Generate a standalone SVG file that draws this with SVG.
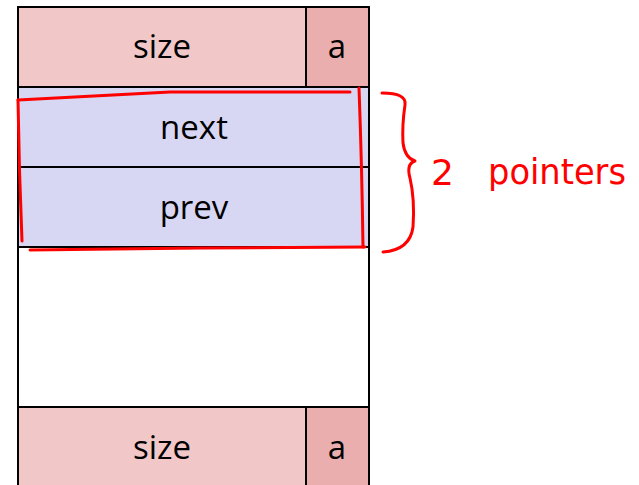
<svg xmlns="http://www.w3.org/2000/svg" width="639" height="485" viewBox="0 0 639 485">
<style>
.cell{stroke:#000;stroke-width:2}
.hdr{fill:#F2C7C7}
.bit{fill:#EBAEAE}
.free{fill:#D7D7F3}
.lbl{font-family:"Open Sans","Liberation Sans",sans-serif;font-size:33px;fill:#000;text-anchor:middle}
.ink{fill:none;stroke:#FF0000;stroke-width:3;stroke-linecap:round;stroke-linejoin:round}
.hand{font-family:"DejaVu Sans","Liberation Sans",sans-serif;font-size:36px;fill:#FF0000}
</style>
<rect width="639" height="485" fill="#fff"/>
<g id="header">
<rect class="cell hdr" x="18" y="7" width="288" height="80"/>
<rect class="cell bit" x="306" y="7" width="63" height="80"/>
<text class="lbl" x="162" y="58">size</text>
<text class="lbl" x="337" y="58">a</text>
</g>
<g id="next">
<rect class="cell free" x="18" y="87" width="351" height="80"/>
<text class="lbl" x="194" y="139">next</text>
</g>
<g id="prev">
<rect class="cell free" x="18" y="167" width="351" height="80"/>
<text class="lbl" x="194" y="219">prev</text>
</g>
<g id="empty">
<rect class="cell" x="18" y="247" width="351" height="160" fill="#fff"/>
</g>
<g id="footer">
<rect class="cell hdr" x="18" y="407" width="288" height="82"/>
<rect class="cell bit" x="306" y="407" width="63" height="82"/>
<text class="lbl" x="162" y="459">size</text>
<text class="lbl" x="337" y="459">a</text>
</g>
<g id="connectors">
<path class="ink" d="M18 100 L170 92 L350 92"/>
<path class="ink" d="M359 88 Q362 170 363 247"/>
<path class="ink" d="M30 250 L200 248 L365 247"/>
<path class="ink" d="M18 100 Q19 170 22 241"/>
<path class="ink" d="M382 93 Q407 93 405 105 Q402 125 403 143 Q405 158 415 161 Q406 164 410 178 Q415 200 413 227 Q410 250 383 252"/>
</g>
<g id="annotation">
<text class="hand" x="431" y="185">2</text>
<text class="hand" x="488" y="184" textLength="138" lengthAdjust="spacingAndGlyphs">pointers</text>
</g>
</svg>
